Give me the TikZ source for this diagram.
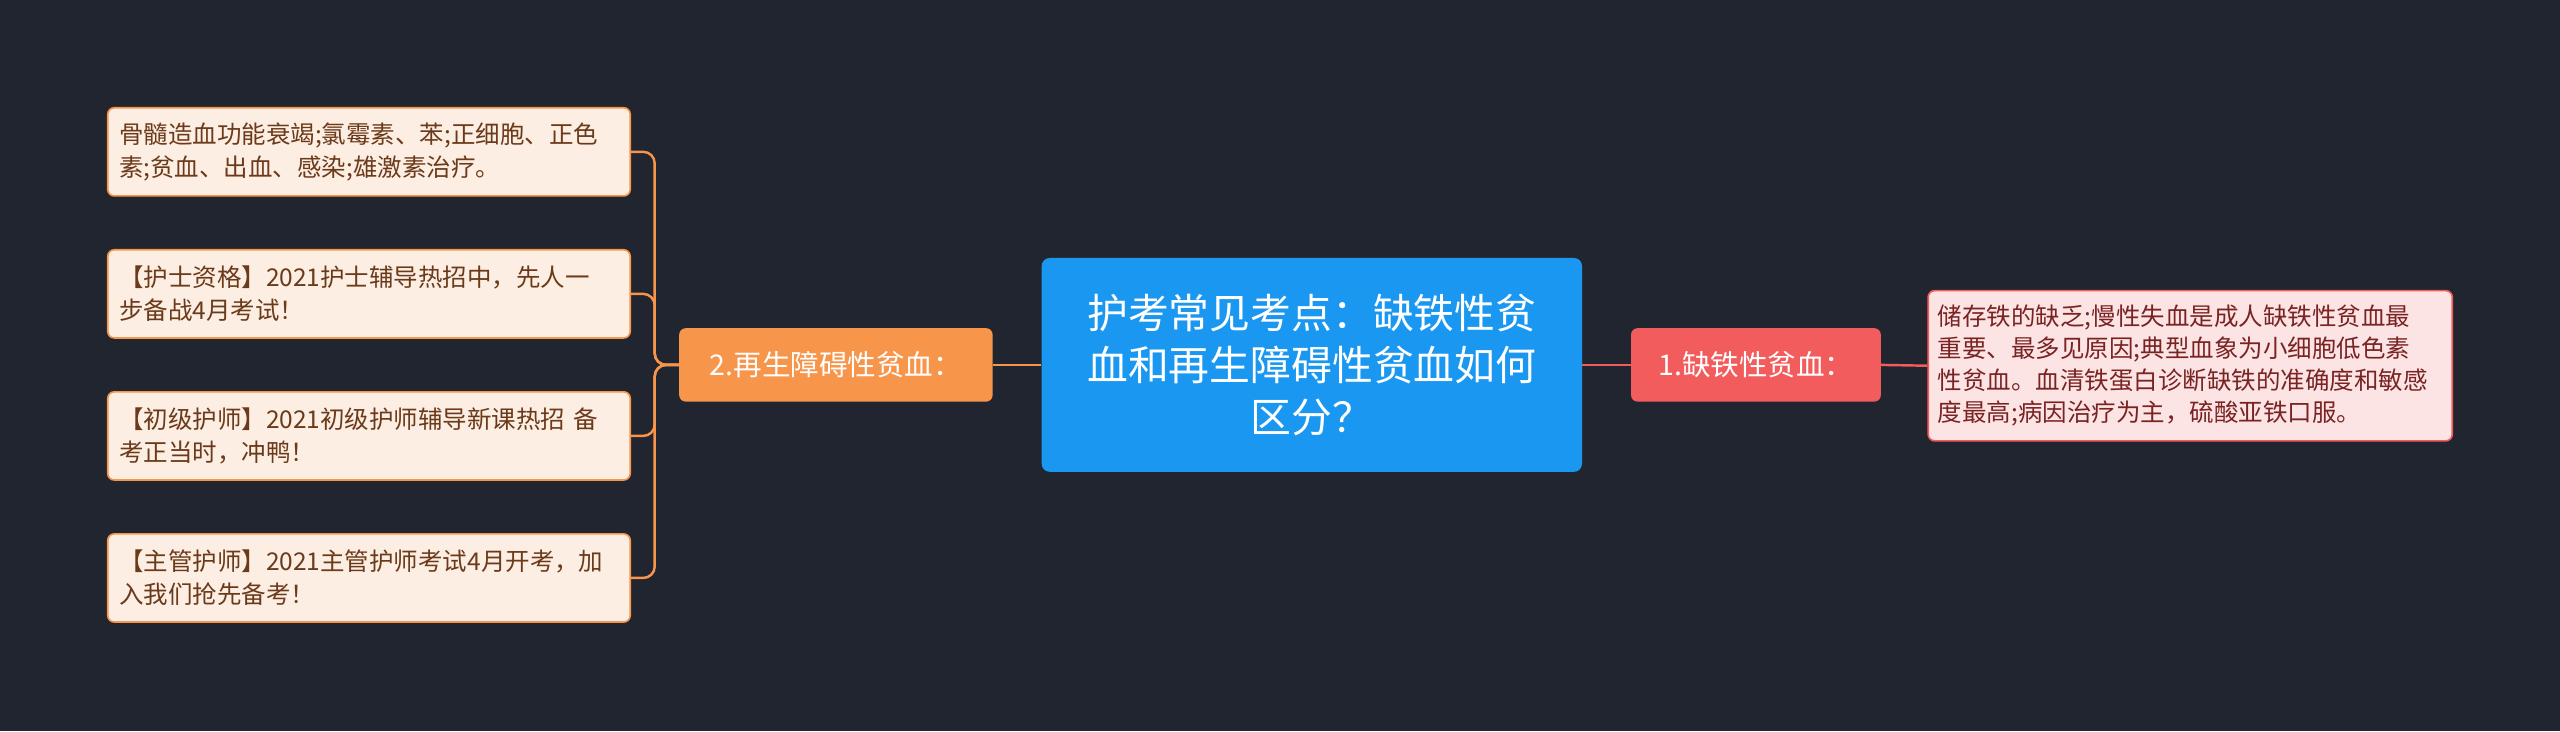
\documentclass[tikz,border=0pt]{standalone}
\usepackage{fontspec}
\setmainfont{Noto Sans CJK SC}
\definecolor{bg}{HTML}{21252F}
\definecolor{cblue}{HTML}{1A97F0}
\definecolor{cred}{HTML}{F25C5C}
\definecolor{corange}{HTML}{F7954A}
\definecolor{pinkf}{HTML}{FDE4E4}
\definecolor{orf}{HTML}{FDEEE3}
\definecolor{redt}{HTML}{7A2323}
\definecolor{brt}{HTML}{6B3A1A}
\begin{document}
\begin{tikzpicture}[x=1pt,y=-1pt,
  leafo/.style={draw=corange,fill=orf,rounded corners=4,text=brt,font=\fontsize{15}{20}\selectfont,align=left,text width=306pt,inner sep=0pt,minimum width=320pt,minimum height=54pt,line width=1pt},
  leafr/.style={draw=cred,fill=pinkf,rounded corners=4,text=redt,font=\fontsize{15}{19.5}\selectfont,align=left,text width=309pt,inner sep=0pt,minimum width=321pt,minimum height=92pt,line width=1pt},
  mid/.style={rounded corners=4,text=white,font=\fontsize{17.5}{20}\selectfont,minimum height=45pt,inner sep=6pt},
  lo/.style={corange,line width=1.5pt},
  lr/.style={cred,line width=1.5pt}]
\fill[bg] (0,0) rectangle (1568,448);
\node[fill=cblue,rounded corners=5,text=white,font=\fontsize{25}{32}\selectfont,align=center,minimum width=331pt,minimum height=131pt] (c) at (803.5,223.5) {护考常见考点：缺铁性贫\\血和再生障碍性贫血如何\\区分？};
\node[mid,fill=cred,minimum width=153pt] (r) at (1075.5,223.5) {1.缺铁性贫血：};
\node[leafr] (rl) at (1341.5,224) {储存铁的缺乏;慢性失血是成人缺铁性贫血最\\重要、最多见原因;典型血象为小细胞低色素\\性贫血。血清铁蛋白诊断缺铁的准确度和敏感\\度最高;病因治疗为主，硫酸亚铁口服。};
\node[mid,fill=corange,minimum width=192pt] (l) at (512,223.5) {2.再生障碍性贫血：};
\node[leafo] (a) at (226,93) {骨髓造血功能衰竭;氯霉素、苯;正细胞、正色\\素;贫血、出血、感染;雄激素治疗。};
\node[leafo] (b) at (226,180) {【护士资格】2021护士辅导热招中，先人一\\步备战4月考试！};
\node[leafo] (d) at (226,267) {【初级护师】2021初级护师辅导新课热招 备\\考正当时，冲鸭！};
\node[leafo] (e) at (226,354) {【主管护师】2021主管护师考试4月开考，加\\入我们抢先备考！};
\draw[lr] (c.east) -- (r.west);
\draw[lr] (r.east) -- (rl.west);
\draw[lo] (c.west) -- (l.west -| l.east);
\coordinate (j) at (401,223.5);
\foreach \n in {a,b,d,e}{\draw[lo,rounded corners=7] (l.west) -- (j) |- (\n.east);}
\end{tikzpicture}
\end{document}
